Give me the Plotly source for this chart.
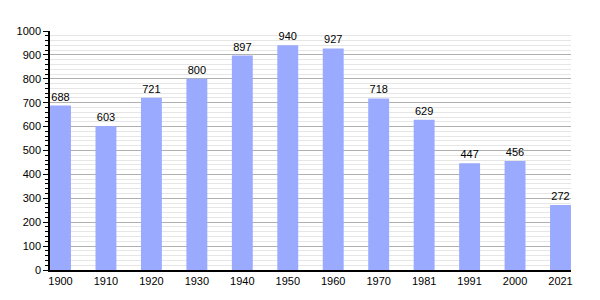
import plotly.graph_objects as go

years = ["1900", "1910", "1920", "1930", "1940", "1950", "1960", "1970", "1981", "1991", "2000", "2021"]
population = [688, 603, 721, 800, 897, 940, 927, 718, 629, 447, 456, 272]

fig = go.Figure(go.Bar(
    x=years, y=population,
    text=[str(v) for v in population],
    textposition="outside",
    textfont=dict(size=11, color="black", family="Liberation Sans, Arial"),
    marker=dict(color="#99aaff", line=dict(width=0)),
    width=0.46,
    cliponaxis=False,
))

fig.update_layout(
    width=600, height=300,
    margin=dict(l=50, r=29, t=31, b=30),
    paper_bgcolor="white", plot_bgcolor="white",
    font=dict(family="Liberation Sans, Arial", size=11, color="black"),
    showlegend=False,
    xaxis=dict(
        type="category",
        range=[-0.231, 11.231],
        showline=True, linecolor="black", linewidth=1.5,
        ticks="", showgrid=False,
        tickfont=dict(size=11),
    ),
    yaxis=dict(
        range=[0, 1000],
        tickvals=list(range(0, 1001, 100)),
        showline=True, linecolor="black", linewidth=1.5,
        ticks="outside", ticklen=5, tickcolor="black",
        gridcolor="#b0b0b0", gridwidth=1,
        zeroline=False,
        minor=dict(dtick=20, ticks="outside", ticklen=3, tickcolor="black",
                   showgrid=True, gridcolor="#e6e6e6", gridwidth=1),
        tickfont=dict(size=11),
    ),
)

fig.write_html("out.html")
